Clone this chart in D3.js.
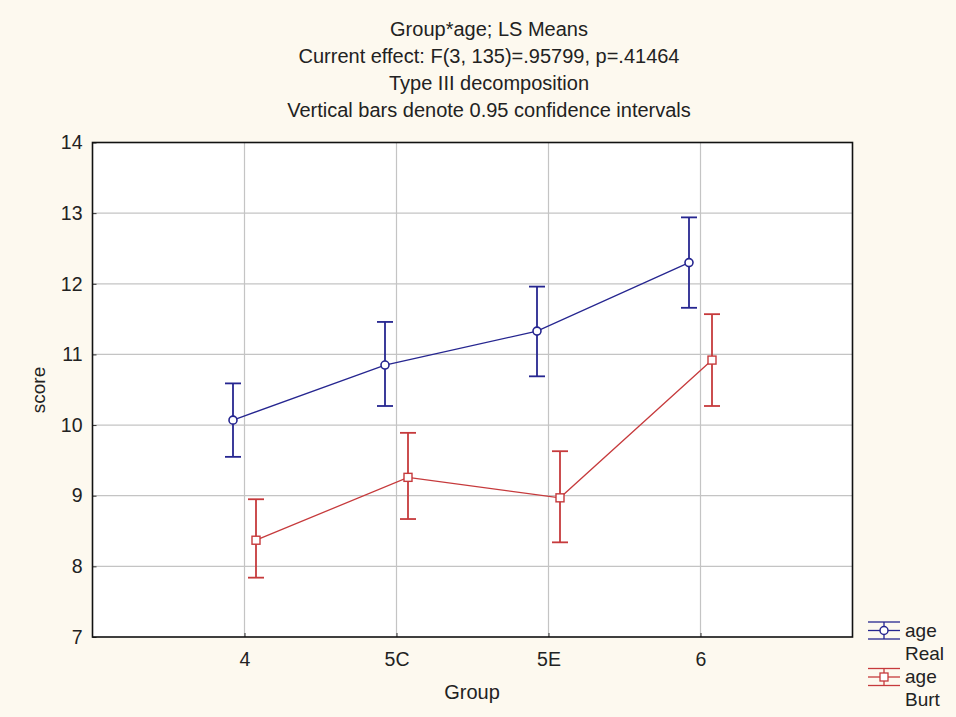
<!DOCTYPE html>
<html>
<head>
<meta charset="utf-8">
<script src="https://cdn.jsdelivr.net/npm/d3@7"></script>
<style>
  body { margin: 0; background: #fdf9ef; }
  svg { display: block; font-family: "Liberation Sans", Arial, sans-serif; }
</style>
</head>
<body>
<svg id="canvas"></svg>
<script>
// Data
const groups = ["4", "5C", "5E", "6"];
const realMeans = [10.07, 10.85, 11.33, 12.30];
const realLow = [9.55, 10.27, 10.69, 11.66];
const realHigh = [10.59, 11.46, 11.96, 12.94];
const burtMeans = [8.37, 9.26, 8.97, 10.92];
const burtLow = [7.84, 8.67, 8.34, 10.27];
const burtHigh = [8.95, 9.89, 9.63, 11.57];
const yTicks = [7, 8, 9, 10, 11, 12, 13, 14];
const titleLines = [
   "Group*age; LS Means",
   "Current effect: F(3, 135)=.95799, p=.41464",
   "Type III decomposition",
   "Vertical bars denote 0.95 confidence intervals"
];

const series = [
   { name: "Real", means: realMeans, low: realLow, high: realHigh, color: "#262690", shift: -11.5, shape: "circle" },
   { name: "Burt", means: burtMeans, low: burtLow, high: burtHigh, color: "#c63a3c", shift: 11.5, shape: "square" }
];

const svgWidth = 956;
const svgHeight = 717;
const plot = { left: 92.5, right: 852.5, top: 142.5, bottom: 637 };
const textColor = "#222";

const svg = d3.select("#canvas")
              .attr("width", svgWidth)
              .attr("height", svgHeight);

// Title
svg.append("g")
   .selectAll("text")
   .data(titleLines)
   .enter()
   .append("text")
   .attr("x", 489)
   .attr("y", (d, i) => 36 + i * 27)
   .attr("text-anchor", "middle")
   .style("font-size", "20px")
   .style("fill", textColor)
   .text((d) => d);

// Scales: groups sit at 1..4 on a 0..5 axis
const xScale = d3.scaleLinear().domain([0, 5]).range([plot.left, plot.right]);
const yScale = d3.scaleLinear().domain([7, 14]).range([plot.bottom, plot.top]);
const xPos = (i) => xScale(i + 1);

// Plot area
svg.append("rect")
   .attr("x", plot.left).attr("y", plot.top)
   .attr("width", plot.right - plot.left).attr("height", plot.bottom - plot.top)
   .attr("fill", "#fff");

// Grid lines
svg.append("g")
   .selectAll("line")
   .data(yTicks.slice(1, -1))
   .enter().append("line")
   .attr("x1", plot.left).attr("x2", plot.right)
   .attr("y1", (d) => yScale(d)).attr("y2", (d) => yScale(d))
   .attr("stroke", "#c4c4c4").attr("stroke-width", 1.2);
svg.append("g")
   .selectAll("line")
   .data(groups)
   .enter().append("line")
   .attr("x1", (d, i) => xPos(i)).attr("x2", (d, i) => xPos(i))
   .attr("y1", plot.top).attr("y2", plot.bottom)
   .attr("stroke", "#c4c4c4").attr("stroke-width", 1.2);

// Axes
const yAxis = d3.axisLeft(yScale).tickValues(yTicks).tickFormat(d3.format("d")).tickSize(4).tickPadding(6);
const gY = svg.append("g").attr("transform", `translate(${plot.left}, 0)`).call(yAxis);
const xAxis = d3.axisBottom(xScale).tickValues([1, 2, 3, 4]).tickFormat((d) => groups[d - 1]).tickSize(4).tickPadding(11);
const gX = svg.append("g").attr("transform", `translate(0, ${plot.bottom})`).call(xAxis);
[gY, gX].forEach((g) => {
   g.attr("font-family", null).attr("font-size", null);
   g.select(".domain").remove();
   g.selectAll(".tick line").attr("stroke", "#333");
   g.selectAll(".tick text").style("font-size", "19.5px").style("fill", textColor);
});
gX.selectAll(".tick line").attr("y2", -4);
gY.selectAll(".tick line").attr("x2", 4);

// Frame
svg.append("rect")
   .attr("x", plot.left).attr("y", plot.top)
   .attr("width", plot.right - plot.left).attr("height", plot.bottom - plot.top)
   .attr("fill", "none").attr("stroke", "#111").attr("stroke-width", 1.6);

// Axis labels
svg.append("text")
   .attr("transform", "translate(45, 390) rotate(-90)")
   .attr("text-anchor", "middle")
   .style("font-size", "19px").style("fill", textColor)
   .text("score");
svg.append("text")
   .attr("x", 472).attr("y", 699)
   .attr("text-anchor", "middle")
   .style("font-size", "20px").style("fill", textColor)
   .text("Group");

// Series: lines, error bars, markers
const line = d3.line();
series.forEach((s) => {
   const g = svg.append("g");
   const pts = s.means.map((m, i) => [xPos(i) + s.shift, yScale(m)]);
   g.append("path")
    .attr("d", line(pts))
    .attr("fill", "none").attr("stroke", s.color).attr("stroke-width", 1.3);
   s.means.forEach((m, i) => {
      const x = xPos(i) + s.shift;
      g.append("line")
       .attr("x1", x).attr("x2", x)
       .attr("y1", yScale(s.low[i])).attr("y2", yScale(s.high[i]))
       .attr("stroke", s.color).attr("stroke-width", 1.8);
      [s.low[i], s.high[i]].forEach((v) => {
         g.append("line")
          .attr("x1", x - 8).attr("x2", x + 8)
          .attr("y1", yScale(v)).attr("y2", yScale(v))
          .attr("stroke", s.color).attr("stroke-width", 1.8);
      });
   });
   if (s.shape === "circle") {
      g.selectAll("circle").data(s.means).enter().append("circle")
       .attr("cx", (d, i) => xPos(i) + s.shift).attr("cy", (d) => yScale(d))
       .attr("r", 4).attr("fill", "#fff").attr("stroke", s.color).attr("stroke-width", 1.6);
   } else {
      g.selectAll("rect").data(s.means).enter().append("rect")
       .attr("x", (d, i) => xPos(i) + s.shift - 4).attr("y", (d) => yScale(d) - 4)
       .attr("width", 8).attr("height", 8)
       .attr("fill", "#fff").attr("stroke", s.color).attr("stroke-width", 1.4);
   }
});

// Legend
series.forEach((s, k) => {
   const cy = 630.5 + k * 46.5;
   const g = svg.append("g");
   [-8.5, 0, 8.5].forEach((dy) => {
      g.append("line")
       .attr("x1", 868).attr("x2", 900)
       .attr("y1", cy + dy).attr("y2", cy + dy)
       .attr("stroke", s.color).attr("stroke-width", 1.3);
   });
   g.append("line")
    .attr("x1", 884).attr("x2", 884)
    .attr("y1", cy - 8.5).attr("y2", cy + 8.5)
    .attr("stroke", s.color).attr("stroke-width", 1.3);
   if (s.shape === "circle") {
      g.append("circle").attr("cx", 884).attr("cy", cy).attr("r", 4)
       .attr("fill", "#fff").attr("stroke", s.color).attr("stroke-width", 1.5);
   } else {
      g.append("rect").attr("x", 880).attr("y", cy - 4).attr("width", 8).attr("height", 8)
       .attr("fill", "#fff").attr("stroke", s.color).attr("stroke-width", 1.3);
   }
   g.append("text").attr("x", 905).attr("y", cy + 6)
    .style("font-size", "19px").style("fill", textColor).text("age");
   g.append("text").attr("x", 905).attr("y", cy + 29)
    .style("font-size", "19px").style("fill", textColor).text(s.name);
});
</script>
</body>
</html>
